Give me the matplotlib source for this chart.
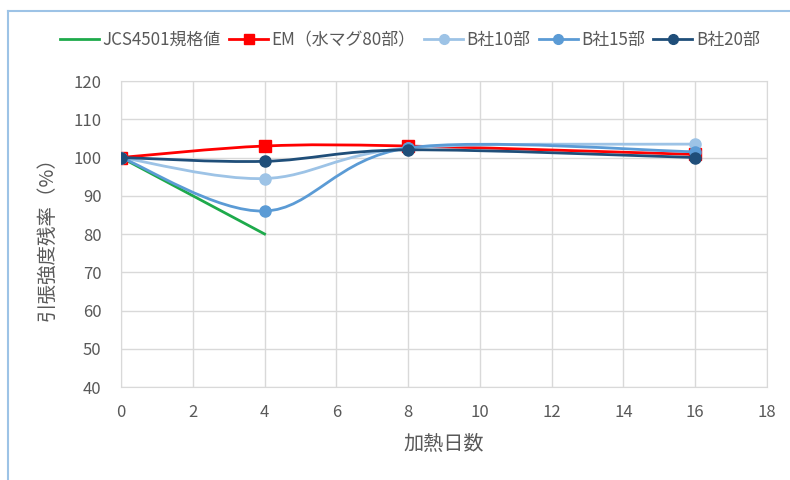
import numpy as np
import matplotlib
matplotlib.use("Agg")
import matplotlib.pyplot as plt
from matplotlib.path import Path
from matplotlib.patches import PathPatch
from matplotlib.lines import Line2D

plt.rcParams["font.family"] = ["Noto Sans CJK JP", "DejaVu Sans"]

days = [0, 4, 8, 16]
jcs_days = [0, 4]
jcs = [100, 80]
em = [100, 103, 103, 100.8]
b10 = [100, 94.5, 102.5, 103.5]
b15 = [100, 86, 102.5, 101.5]
b20 = [100, 99, 102, 100]

series = [
    ("EM（水マグ80部）", em, "#ff0000", "s"),
    ("B社10部", b10, "#9dc3e6", "o"),
    ("B社15部", b15, "#5b9bd5", "o"),
    ("B社20部", b20, "#1f4e79", "o"),
]

TEXT = "#595959"
GRID = "#d9d9d9"


def smooth_path(xs, ys):
    # cubic bezier through the points, Catmull-Rom style control points
    pts = np.column_stack([xs, ys]).astype(float)
    n = len(pts)
    verts = [pts[0]]
    codes = [Path.MOVETO]
    for i in range(n - 1):
        p0 = pts[i - 1] if i > 0 else pts[i]
        p1 = pts[i]
        p2 = pts[i + 1]
        p3 = pts[i + 2] if i + 2 < n else pts[i + 1]
        c1 = p1 + (p2 - p0) / 6.0
        c2 = p2 - (p3 - p1) / 6.0
        verts += [c1, c2, p2]
        codes += [Path.CURVE4] * 3
    return Path(verts, codes)


fig = plt.figure(figsize=(7.9, 4.8), dpi=100)
ax = fig.add_axes([121 / 790, 1 - 387 / 480, 646 / 790, 306 / 480])

ax.plot(jcs_days, jcs, color="#1eaa4b", lw=2.0, zorder=3)

handles = [Line2D([], [], color="#1eaa4b", lw=2.0, label="JCS4501規格値")]
for k, (name, vals, col, mk) in enumerate(series):
    ax.add_patch(PathPatch(smooth_path(days, vals), facecolor="none",
                           edgecolor=col, lw=2.0, zorder=4 + k))
    ax.plot(days, vals, ls="none", marker=mk, ms=8, color=col,
            mec=col, zorder=4 + k)
    handles.append(Line2D([], [], color=col, lw=2.0, marker=mk, ms=7,
                          label=name))

ax.set_xlim(0, 18)
ax.set_ylim(40, 120)
ax.set_xticks(np.arange(0, 19, 2))
ax.set_yticks(np.arange(40, 121, 10))
ax.grid(True, color=GRID, lw=1.0)
ax.set_axisbelow(True)
for s in ax.spines.values():
    s.set_color(GRID)
ax.tick_params(length=0, labelsize=12, colors=TEXT)
ax.tick_params(axis="y", pad=14)
ax.tick_params(axis="x", pad=12)

ax.set_xlabel("加熱日数", fontsize=14.5, color=TEXT)
ax.set_ylabel("引張強度残率（%）", fontsize=14, color=TEXT)
ax.xaxis.set_label_coords(0.5, (387 - 433) / 306)
ax.yaxis.set_label_coords((57 - 121) / 646, 0.5)

fig.legend(handles=handles, loc="center", bbox_to_anchor=(410 / 790, 1 - 40 / 480),
           ncol=5, frameon=False, fontsize=12.2, handlelength=2.3,
           handletextpad=0.2, columnspacing=0.5, labelcolor=TEXT)

# thin frame along top and left of the image
frame = "#9dc3e6"
fig.add_artist(Line2D([8 / 790, 8 / 790], [0, 1 - 11 / 480], color=frame, lw=1.5))
fig.add_artist(Line2D([8 / 790, 1], [1 - 11 / 480, 1 - 11 / 480], color=frame, lw=1.5))

fig.savefig("out.png", dpi=100)
